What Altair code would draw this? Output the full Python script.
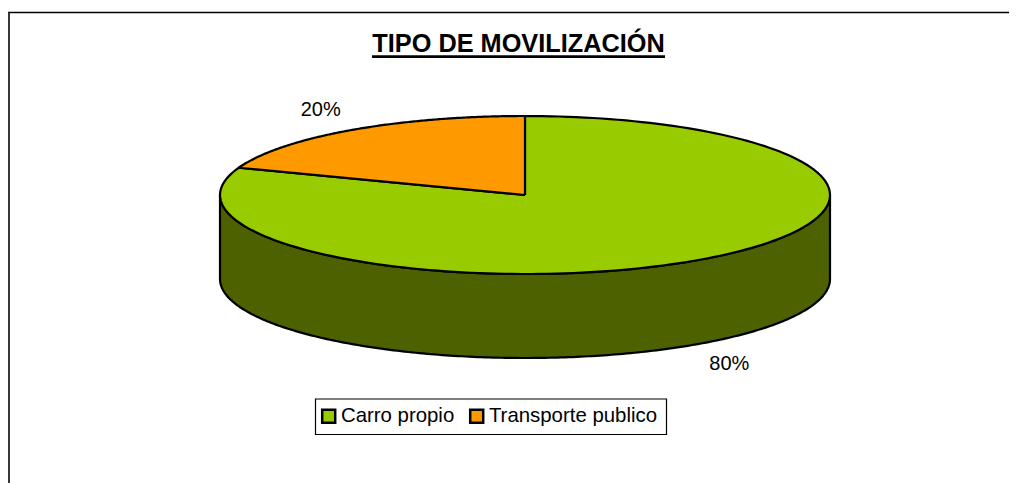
import numpy as np
import pandas as pd
import altair as alt

# values
categories = ["Carro propio", "Transporte publico"]
shares = [80.6, 19.4]
pct_labels = ["80%", "20%"]
colors = ["#99CC00", "#FF9900"]
wall_color = "#4D6100"
title_text = "TIPO DE MOVILIZACIÓN"

W, H = 1001, 475
CX, CY, RX, RY, DEPTH = 517, 187, 305, 79, 84
x_scale = alt.Scale(domain=[-CX / RX, (W - CX) / RX], range=[0, W])
y_scale = alt.Scale(domain=[(CY - H) / RY, CY / RY], range=[H, 0])
depth = DEPTH / RY

# slices go clockwise from 12 o'clock
rows, start = [], 0.0
label_rows = []
for cat, s, lab in zip(categories, shares, pct_labels):
    end = start + s / 100 * 2 * np.pi
    t = np.linspace(start, end, 181)
    xs = [0.0] + list(np.sin(t)) + [0.0]
    ys = [0.0] + list(np.cos(t)) + [0.0]
    for i, (a, b) in enumerate(zip(xs, ys)):
        rows.append({"cat": cat, "i": i, "x": a, "y": b})
    mid = (start + end) / 2
    my = 1.17 * np.cos(mid)
    if my < 0:
        my += -depth - 9 / RY
    else:
        my += 9 / RY
    label_rows.append({"x": 1.17 * np.sin(mid), "y": my, "t": lab})
    start = end
top = pd.DataFrame(rows)

t = np.linspace(np.pi / 2, 3 * np.pi / 2, 241)
wall_x = list(np.sin(t)) + list(np.sin(t[::-1]))
wall_y = list(np.cos(t)) + list(np.cos(t[::-1]) - depth)
wall = pd.DataFrame({"x": wall_x + wall_x[:1], "y": wall_y + wall_y[:1]})
wall["i"] = range(len(wall))

X = alt.X("x:Q", scale=x_scale, axis=None)
Y = alt.Y("y:Q", scale=y_scale, axis=None)

wall_layer = alt.Chart(wall).mark_line(
    stroke="black", strokeWidth=2.2, fill=wall_color, strokeJoin="round"
).encode(x=X, y=Y, order="i:Q")

top_layer = alt.Chart(top).mark_line(
    stroke="black", strokeWidth=2.2, strokeJoin="round"
).encode(
    x=X, y=Y, order="i:Q",
    fill=alt.Fill(
        "cat:N",
        scale=alt.Scale(domain=categories, range=colors),
        legend=alt.Legend(
            title=None, orient="none", legendX=304.5, legendY=392,
            direction="horizontal", columns=2, columnPadding=10,
            symbolType="square", symbolSize=169, symbolStrokeWidth=2.5,
            symbolStrokeColor="black", labelFont="Liberation Sans",
            labelFontSize=20.4, labelColor="black", labelOffset=2,
            labelLimit=300, padding=6,
        ),
    ),
)

label_layer = alt.Chart(pd.DataFrame(label_rows)).mark_text(
    font="Liberation Sans", fontSize=20, color="black", baseline="middle", align="center"
).encode(x=X, y=Y, text="t:N")

one = alt.Data(values=[{"t": title_text}])
title_layer = alt.Chart(one).mark_text(
    font="Liberation Sans", fontSize=25.3, fontWeight="bold", color="black",
    baseline="middle", align="center"
).encode(x=alt.value(510.5), y=alt.value(36), text="t:N")
underline = alt.Chart(one).mark_rule(color="black", strokeWidth=2.6).encode(
    x=alt.value(364), x2=alt.value(657), y=alt.value(48.6)
)
frame_top = alt.Chart(one).mark_rule(color="black", strokeWidth=1.6).encode(
    x=alt.value(0), x2=alt.value(W), y=alt.value(4.5)
)
frame_left = alt.Chart(one).mark_rule(color="#222222", strokeWidth=1.8).encode(
    x=alt.value(1), y=alt.value(4), y2=alt.value(H)
)
legend_box = alt.Chart(one).mark_rect(
    fillOpacity=0, stroke="black", strokeWidth=1.2
).encode(
    x=alt.value(307.5), x2=alt.value(658.5), y=alt.value(391), y2=alt.value(426.5)
)

chart = alt.layer(
    frame_top, frame_left, legend_box, wall_layer, top_layer, label_layer, title_layer, underline
).resolve_scale(x="shared", y="shared").properties(
    width=W, height=H, padding=0,
    autosize=alt.AutoSizeParams(type="none"),
).configure_view(stroke=None)

chart.save("out.html", embed_options={"renderer": "svg", "actions": False})
